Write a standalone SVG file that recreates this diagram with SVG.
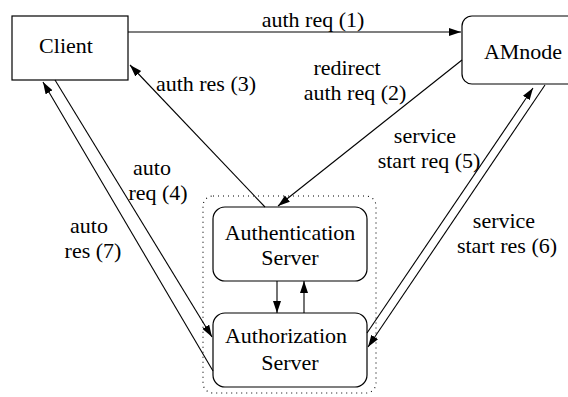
<svg xmlns="http://www.w3.org/2000/svg" width="568" height="397" viewBox="0 0 568 397">
<defs>
<style>
.box{fill:#fff;stroke:#000;stroke-width:1.2}
.edge{fill:none;stroke:#000;stroke-width:1.1}
.t{font-size:22px;fill:#000;text-anchor:middle}
</style>
<marker id="ah" markerUnits="userSpaceOnUse" markerWidth="13" markerHeight="9" refX="12" refY="4" orient="auto" viewBox="0 0 13 9">
<path d="M0,0 L12,4 L0,8 Z" fill="#000"/>
</marker>
</defs>
<rect x="0" y="0" width="568" height="397" fill="#fff"/>
<g font-family="Liberation Serif, Times New Roman, serif">
<g id="group-servers">
<rect x="203" y="196" width="173" height="197" rx="10" fill="none" stroke="#000" stroke-width="1.1" stroke-dasharray="1 4"/>
</g>
<g id="client">
<rect class="box" x="12" y="16" width="116" height="64"/>
<text class="t" x="66" y="53">Client</text>
</g>
<g id="amnode">
<rect class="box" x="462" y="16" width="120" height="68" rx="10"/>
<text class="t" x="523" y="59">AMnode</text>
</g>
<g id="authentication">
<rect class="box" x="213" y="207" width="154" height="74" rx="12"/>
<text class="t" x="290" y="240">Authentication</text>
<text class="t" x="290" y="265">Server</text>
</g>
<g id="authorization">
<rect class="box" x="213" y="313" width="154" height="74" rx="12"/>
<text class="t" x="286" y="343">Authorization</text>
<text class="t" x="290" y="370">Server</text>
</g>
<g id="connectors">
<line class="edge" x1="128" y1="32" x2="461" y2="32" marker-end="url(#ah)"/>
<line class="edge" x1="462" y1="60" x2="278" y2="206" marker-end="url(#ah)"/>
<line class="edge" x1="265" y1="207" x2="130" y2="65" marker-end="url(#ah)"/>
<line class="edge" x1="55" y1="80" x2="212" y2="337" marker-end="url(#ah)"/>
<line class="edge" x1="213" y1="371" x2="43" y2="82" marker-end="url(#ah)"/>
<line class="edge" x1="367" y1="333" x2="533" y2="88" marker-end="url(#ah)"/>
<line class="edge" x1="545" y1="85" x2="368" y2="347" marker-end="url(#ah)"/>
<line class="edge" x1="277" y1="281" x2="277" y2="313" marker-end="url(#ah)"/>
<line class="edge" x1="304" y1="313" x2="304" y2="281" marker-end="url(#ah)"/>
</g>
<g id="labels">
<text class="t" x="313" y="27">auth req (1)</text>
<text class="t" x="347" y="75">redirect</text>
<text class="t" x="355" y="100">auth req (2)</text>
<text class="t" x="206" y="91">auth res (3)</text>
<text class="t" x="152" y="175">auto</text>
<text class="t" x="158" y="200">req (4)</text>
<text class="t" x="89" y="233">auto</text>
<text class="t" x="93" y="258">res (7)</text>
<text class="t" x="425" y="143">service</text>
<text class="t" x="429" y="168">start req (5)</text>
<text class="t" x="504" y="228">service</text>
<text class="t" x="507" y="253">start res (6)</text>
</g>
</g>
</svg>
